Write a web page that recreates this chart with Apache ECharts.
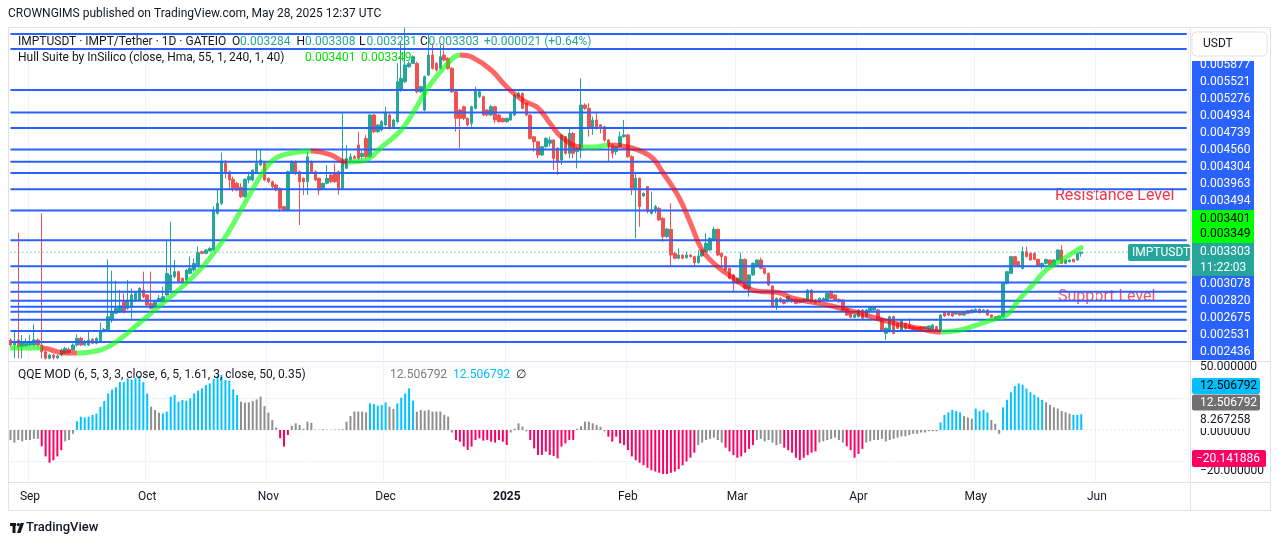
<!DOCTYPE html>
<html>
<head>
<meta charset="utf-8">
<script src="https://cdn.jsdelivr.net/npm/echarts@6.0.0/dist/echarts.min.js"></script>
<style>
  html, body { margin: 0; padding: 0; background: #ffffff; }
  #chart { width: 1281px; height: 546px; }
</style>
</head>
<body>
<div id="chart"></div>
<script>
// ---- data (prices in micro-USDT, i.e. x 1e-6) ----
const startDay = Date.UTC(2024, 7, 27);
const dayCount = 302;           // candles + empty space up to the price scale
const MONTHS = ["Jan","Feb","Mar","Apr","May","Jun","Jul","Aug","Sep","Oct","Nov","Dec"];

// daily candles [open, close, low, high]
const ohlc = [
[1909,1829,1803,1935],[1829,1882,1617,2067],[1909,1803,1617,3613],[1803,1882,1617,1988],[1815,1856,1790,1935],
[1829,1882,1803,1988],[1829,1909,1803,2157],[1909,1829,1803,1935],[1829,1723,1617,3920],[1723,1617,1600,1740],
[1617,1670,1600,1690],[1670,1630,1600,1690],[1625,1655,1605,1680],[1670,1750,1650,1770],[1697,1776,1690,1800],
[1760,1710,1690,1790],[1750,1829,1740,1856],[1829,1935,1803,2000],[1935,1829,1815,1960],[1829,1882,1815,1909],
[1829,1909,1815,2041],[1920,1856,1840,1935],[1856,1935,1840,1950],[1882,2041,1870,2184],[2041,2078,2030,2100],
[2067,2279,2041,3190],[2226,2358,2184,3009],[2332,2411,2320,2851],[2358,2448,2340,2702],[2517,2358,2332,2649],
[2411,2544,2385,2861],[2430,2623,2250,2729],[2533,2649,2520,2670],[2544,2729,2530,2745],[2702,2596,2570,2994],
[2623,2464,2450,2640],[2490,2411,2395,2994],[2430,2517,2420,2530],[2517,2570,2505,2623],[2517,2596,2505,2755],
[2623,2967,2596,3496],[2702,2941,2649,3788],[2914,2994,2888,3179],[2994,2835,2820,3009],[2888,2835,2820,2900],
[2861,3020,2835,3031],[2967,3047,2950,3232],[3020,3126,2994,3205],[3100,3295,3100,3391],[3311,3285,3270,3330],
[3285,3338,3270,3350],[3322,3364,3310,3380],[3338,3973,3330,4026],[3920,4079,3900,4290],[4079,4751,4052,4883],
[4714,4555,4476,4767],[4581,4449,4290,4600],[4460,4317,4264,4502],[4396,4290,4270,4420],[4333,4185,4160,4396],
[4185,4460,4170,4476],[4449,4502,4396,4581],[4449,4608,4430,4620],[4581,4714,4560,4926],[4687,4767,4670,4941],
[4714,4449,4430,4730],[4476,4423,4400,4490],[4423,4343,4320,4440],[4369,4290,4270,4390],[4316,3999,3946,4330],
[4025,3972,3950,4040],[3972,4581,3950,4600],[4581,4740,4560,4760],[4740,4555,4530,4760],[4581,4422,3734,4600],
[4475,4422,4211,4490],[4422,4819,4211,4899],[4740,4581,4560,4760],[4581,4449,4430,4600],[4475,4290,4211,4490],
[4316,4396,4300,4410],[4396,4475,4380,4687],[4528,4422,4400,4540],[4555,4422,4400,4713],[4581,4316,4211,4600],
[4316,4766,4300,5507],[4634,4793,4620,5005],[4766,4819,4750,4872],[4819,4793,4780,4846],[5005,4793,4770,5216],
[4819,4872,4780,4920],[5110,4819,4790,5163],[4819,5481,4800,5500],[5481,5216,5190,5500],[5216,5322,5200,5340],
[5243,5375,5220,5400],[5322,5507,5300,5613],[5481,5269,5250,5507],[5296,5401,5280,5420],[5375,6010,5350,6300],
[5878,6063,5850,6645],[6010,6275,5990,6868],[6248,6301,6230,6330],[6301,6407,6290,6430],[6301,5851,5825,6330],
[5851,5931,5830,5950],[5560,6090,5540,6110],[6116,6434,6100,6751],[6434,6222,6200,6619],[6301,6195,6170,6320],
[6222,6407,6200,6592],[6434,6354,6330,6592],[6380,6222,6200,6400],[6222,5851,5830,6240],[5851,5428,5216,5870],
[5560,5428,4952,5580],[5613,5428,5400,5630],[5428,5322,5300,5440],[5349,5613,5296,5630],[5587,5878,5570,5931],
[5772,5851,5750,5870],[5772,5481,5460,5790],[5560,5481,5460,5580],[5481,5613,5460,5640],[5613,5401,5349,5630],
[5481,5375,5360,5500],[5428,5375,5360,5440],[5375,5428,5360,5440],[5401,5507,5390,5520],[5481,5799,5460,5820],
[5772,5825,5750,5851],[5825,5587,5570,5840],[5666,5481,5460,5680],[5481,5110,5090,5500],[5136,5058,4899,5150],
[5058,4846,4793,5070],[4846,4978,4830,4990],[4978,5110,4960,5130],[5032,5084,4979,5137],[5084,4793,4608,5100],
[4952,4740,4529,4970],[4767,5164,4688,5180],[5137,4873,4850,5150],[4873,5190,4793,5270],[5190,4873,4793,5210],
[4899,4952,4635,4970],[4926,5640,4793,6064],[5640,5587,5560,5667],[5587,5270,5137,5667],[5270,5402,5164,5455],
[5402,5270,5250,5508],[5323,5270,5190,5340],[5296,5084,5060,5310],[5084,4979,4740,5100],[5005,4873,4793,5020],
[4899,4979,4846,4990],[4979,5137,4960,5217],[5137,5164,5120,5402],[5164,4820,4800,5180],[4820,4317,4211,4840],
[4317,4476,3523,4582],[4476,4026,3708,4490],[4195,4238,4180,4250],[4344,3947,3920,4350],[3920,3973,3900,4264],
[3973,4026,3920,4052],[3999,3814,3800,4020],[3841,3550,3470,3860],[3550,3671,3530,3690],[3666,3258,3073,4079],
[3285,3206,3190,3300],[3206,3258,3190,3364],[3258,3206,3190,3270],[3216,3258,3200,3311],[3258,3232,3220,3270],
[3232,3137,3073,3245],[3137,3243,3120,3338],[3243,3338,3230,3350],[3311,3444,3300,3603],[3338,3523,3320,3540],
[3497,3666,3480,3708],[3666,3258,3240,3680],[3285,3232,3073,3300],[3232,3020,3000,3245],[3047,2888,2870,3060],
[2941,2808,2676,2955],[2808,2888,2790,2900],[2835,3190,2820,3295],[3190,2729,2710,3200],[2729,2941,2597,2955],
[2941,3126,2930,3140],[3073,3179,3060,3190],[3179,3047,3030,3216],[3047,2967,2950,3060],[2967,2782,2766,2980],
[2766,2438,2420,2780],[2438,2570,2385,2585],[2570,2517,2500,2585],[2544,2491,2475,2560],[2517,2597,2500,2610],
[2555,2517,2500,2570],[2555,2491,2475,2570],[2544,2502,2490,2560],[2517,2555,2500,2570],[2543,2702,2530,2715],
[2702,2517,2500,2715],[2543,2501,2490,2560],[2517,2570,2500,2585],[2543,2570,2530,2585],[2543,2649,2530,2660],
[2676,2570,2555,2700],[2623,2543,2530,2640],[2554,2517,2500,2570],[2543,2385,2370,2560],[2401,2305,2290,2415],
[2332,2268,2255,2345],[2268,2305,2255,2320],[2279,2385,2265,2400],[2385,2252,2240,2400],[2279,2385,2265,2400],
[2358,2427,2345,2440],[2385,2427,2370,2440],[2385,2226,2210,2400],[2252,2067,2050,2265],[2014,2094,1908,2110],
[2041,2279,2025,2295],[2279,2014,2000,2295],[2173,2094,2080,2185],[2067,2226,2050,2240],[2173,2094,2067,2185],
[2147,2094,2080,2252],[2120,2078,2065,2130],[2109,2078,2065,2120],[2120,2078,2065,2130],[2088,2120,2075,2130],
[2078,2131,2065,2140],[2078,2147,2065,2160],[2120,2067,2055,2135],[2067,2305,2055,2320],[2358,2289,2275,2370],
[2358,2305,2290,2370],[2358,2289,2275,2370],[2321,2358,2310,2370],[2358,2305,2290,2370],[2305,2358,2290,2370],
[2374,2332,2320,2385],[2342,2385,2330,2395],[2358,2395,2345,2410],[2395,2342,2330,2410],[2358,2385,2345,2395],
[2385,2305,2290,2395],[2305,2268,2255,2315],[2279,2237,2225,2290],[2252,2289,2240,2300],[2279,2808,2265,2820],
[2808,2993,2790,3005],[2967,3232,2950,3245],[3232,3099,3085,3242],[3152,3073,3060,3165],[3046,3311,3030,3390],
[3311,3232,3220,3390],[3284,3179,3165,3300],[3284,3189,3175,3300],[3189,3083,3070,3200],[3073,3126,3040,3140],
[3126,3189,3110,3200],[3179,3099,3085,3190],[3099,3179,3085,3190],[3179,3337,3165,3350],[3337,3126,3110,3417],
[3126,3179,3110,3190],[3152,3179,3140,3190],[3189,3152,3140,3200],[3179,3284,3165,3300],[3284,3303,3231,3308]
];

// Hull Suite line [day index, value]
const hullPoints = [
[0,1781],[8,1781],[14,1702],[17,1702],[23,1750],[27,1877],[33,2178],[40,2544],[45,2813],[50,3131],
[55,3544],[60,4084],[65,4608],[68,4799],[72,4878],[77,4910],[82,4847],[86,4735],[91,4767],[95,4973],
[100,5243],[103,5513],[107,5926],[112,6307],[115,6434],[118,6402],[123,6196],[127,5926],[131,5720],[135,5593],
[138,5354],[141,5132],[146,4973],[150,4973],[153,5005],[159,4957],[164,4814],[167,4560],[171,4179],[174,3766],
[177,3338],[181,3068],[185,2893],[190,2702],[197,2655],[200,2575],[209,2464],[217,2337],[226,2178],[232,2099],
[238,2035],[243,2067],[251,2226],[255,2305],[258,2544],[262,2813],[265,3020],[269,3179],[274,3375]
];
// trend turns of the hull: [first day index, rising?]
const hullTrend = [[0,true],[8,false],[17,true],[77,false],[86,true],[115,false],[146,true],[153,false],[238,true]];

// horizontal support / resistance levels
const levels = [6767,6529,5877,5521,5276,4934,4739,4560,4304,3963,3494,3078,2820,2675,2531,2436,2358,2231,2051,1876];
const lastPrice = 3303;
const upperLabels = ["0.005877","0.005521","0.005276","0.004934","0.004739","0.004560","0.004304","0.003963","0.003494"];
const hullLabels = ["0.003401","0.003349"];
const lowerLabels = ["0.003078","0.002820","0.002675","0.002531","0.002436"];
const legendOHLC = ["0.003284","0.003308","0.003231","0.003303"];

// QQE MOD histogram
const qqeHist = [
-8,-10,-8,-9,-8,-8,-7,-7, -13,-21,-26,-24,-21,-16, -9,-8,-3,
7,10.6,10,10.6,12,13,18.5,23,29,32,34,38,38,41,40,41,43,38,29,
18.5,15.9,13.8,
13.2,14.6,26.5,27.8,22.5,23.8,23.3,25.1,29.1,31.2,33.1,35.7,37,40.5,43.1,43.7,39.7,39.2,32.3,27.8,
22.5,21.7,22,23,24.3,26.5,19,13.8,7.9, 2, -6.6,-13.2,-4, 3.4,5.3,4,1,6.6,5.8,
0.3,0.2,0.5,0.2,0.1,0.3,0.4,0.6, 6.6,11.1,14.6,14.6,14.6,14,
21.2,20.6,19.3,19.8,22, 18.5,16.7, 21.2,25.7,29.1,33.1,23.3,
14.6,15.9,15.3,15.9,14.6,14.6,14.6,12,10.6, -2,
-7.9,-9.3,-13.2,-15.9,-13.2,-7.9,-6.6,-8.5,-7.9,-9.3,-10,-7.9,-9.3,-11.9,
-2,1,5.3,2.6,-1,
-7.9,-14.6,-19.8,-19.8,-17.2,-19.8,-20.6,-22.5,-13.2,-10.6,-7.9,-7.9,
1,3,6.6,6.6,5.3,4,2.6,-1,
-5.3,-9.3,-5.3,-10.6,-12,-16,-21,
-24,-26,-28,-30,-32,-33,-34,-35,-35,-34,-33,-31,-28,-25,-22,-18,
-12,-10,-8,-7,-6,-8,-10,
-14,-17,-20,-22,-21,-18,-15,-12,
-8,-7,-9,-8,-10,-12,-11,
-14,-16,-18,-22,-24,-22,-20,-18,-17,
-10,-9,-8,-7,-6,-8,-10,
-13,-16,-22,-19,-15,
-10,-9,-8,-8,-7,-9,-8,-7,-6,-5,-5,-4,-3,-3,-2,-2,-1,-1,-1,
6,12,14,16,15,14, 11,10,9, 17,15,16,14, 8,5,-3,
18,24,30,35,37,36,33,30,28,26,24, 22,20,18,17,15,14,13, 12,12,12.506792
];
// QQE state runs: [first day index, state]  n = neutral, u = up, d = down
const qqeRuns = [[0,'n'],[8,'d'],[14,'n'],[17,'u'],[36,'n'],[39,'u'],[59,'n'],[69,'d'],[72,'n'],[92,'u'],
[97,'n'],[99,'u'],[104,'n'],[114,'d'],[128,'n'],[133,'d'],[145,'n'],[153,'d'],[176,'n'],[183,'d'],[191,'n'],
[198,'d'],[207,'n'],[214,'d'],[219,'n'],[238,'u'],[244,'n'],[247,'u'],[251,'n'],[254,'u'],[265,'n'],[272,'u']];
const qqeGuides = [50, 25, -25];

// ---- build ----
const days = [];
for (let k = 0; k < dayCount; k++) {
  days.push(new Date(startDay + k * 86400000).toISOString().slice(0, 10));
}
const isMonthStart = (idx, val) => val.slice(8) === "01";
const lastIdx = dayCount - 1;

// one polyline per horizontal level, broken with "-" gaps
function hLines(values) {
  const out = [];
  values.forEach(v => { out.push([0, v], [lastIdx, v], [lastIdx, "-"]); });
  return out;
}

const UP = "#26a69a", DOWN = "#ef5350", BLUE = "#2962ff";
const qqeColors = { n: "#8f8f8f", u: "#00c3ff", d: "#ff0062" };
function qqeStateAt(i) {
  let s = "n";
  for (const [start, st] of qqeRuns) if (i >= start) s = st;
  return s;
}

const hullPieces = hullTrend.map(([start, rising], k) => {
  const next = hullTrend[k + 1];
  const piece = { gte: start, color: rising ? "#00ff00" : "#ff0000" };
  if (next) piece.lt = next[0];
  return piece;
});

const FONT = 'Roboto, "Liberation Sans", Arial, sans-serif';
function txt(x, y, s, color, size, extra) {
  return Object.assign({ type: "text", x: x, y: y, z: 100,
    style: { text: s, fill: color, fontSize: size || 12, fontFamily: FONT, verticalAlign: "middle", align: "left" } }, extra || {});
}
function box(x, y, w, h, fill, extra) {
  return Object.assign({ type: "rect", z: 90, shape: { x: x, y: y, width: w, height: h }, style: { fill: fill } }, extra || {});
}

const g = [];
// frame
g.push({ type: "rect", z: 1, shape: { x: 8.5, y: 27.5, width: 1262, height: 483 }, style: { fill: "none", stroke: "#e0e3eb", lineWidth: 1 } });
g.push({ type: "line", z: 1, shape: { x1: 1190.5, y1: 27.5, x2: 1190.5, y2: 510.5 }, style: { stroke: "#e0e3eb", lineWidth: 1 } });
g.push({ type: "line", z: 1, shape: { x1: 8.5, y1: 361.5, x2: 1270.5, y2: 361.5 }, style: { stroke: "#e0e3eb", lineWidth: 1 } });
g.push({ type: "line", z: 1, shape: { x1: 8.5, y1: 482.5, x2: 1270.5, y2: 482.5 }, style: { stroke: "#e0e3eb", lineWidth: 1 } });

// publisher line
g.push(txt(8, 14, "CROWNGIMS published on TradingView.com, May 28, 2025 12:37 UTC", "#131722", 12));

// legend
g.push(txt(18, 42, "IMPTUSDT · IMPT/Tether · 1D · GATEIO", "#131722", 12));
[["O", 232, 240], ["H", 296.5, 305], ["L", 359, 366.5], ["C", 420, 428.6]].forEach(([k, xk, xv], n) => {
  g.push(txt(xk, 42, k, "#131722", 12));
  g.push(txt(xv, 42, legendOHLC[n], UP, 12));
});
g.push(txt(484, 42, "+0.000021 (+0.64%)", UP, 12));
g.push(txt(18, 58, "Hull Suite by InSilico (close, Hma, 55, 1, 240, 1, 40)", "#131722", 12));
g.push(txt(305, 58, hullLabels[0], "#00e000", 12));
g.push(txt(361, 58, hullLabels[1], "#00e000", 12));

// annotations (under the level lines)
g.push({ type: "text", x: 1055, y: 196, z: 0, style: { text: "Resistance Level", fill: "#f23645", fontSize: 16, fontFamily: FONT, verticalAlign: "middle" } });
g.push({ type: "text", x: 1058, y: 297, z: 0, style: { text: "Support Level", fill: "#f7525f", fontSize: 16, fontFamily: FONT, verticalAlign: "middle" } });

// price scale
g.push(box(1192, 32, 75, 24, "#ffffff", { shape: { x: 1192, y: 32, width: 75, height: 24, r: 4 }, style: { fill: "#ffffff", stroke: "#e0e3eb" }, z: 95 }));
g.push(txt(1203, 44, "USDT", "#131722", 12, { z: 96 }));
g.push(box(1192, 61, 62, 149, BLUE));
upperLabels.forEach((s, n) => g.push(txt(1200, 64.5 + n * 17.1, s, "#ffffff", 12)));
g.push(box(1192, 210, 62, 33, "#00ff00"));
g.push(txt(1200, 218.5, hullLabels[0], "#000000", 12));
g.push(txt(1200, 234, hullLabels[1], "#000000", 12));
g.push(box(1192, 243, 62, 33, UP));
g.push(txt(1200, 251.5, "0.003303", "#ffffff", 12));
g.push(txt(1200, 268, "11:22:03", "#ffffff", 12));
g.push(box(1192, 276, 62, 84, BLUE));
lowerLabels.forEach((s, n) => g.push(txt(1200, 284 + n * 16.9, s, "#ffffff", 12)));
g.push(box(1128, 244, 62, 17, UP, { shape: { x: 1128, y: 244, width: 62, height: 17, r: 2 } }));
g.push(txt(1132, 252.5, "IMPTUSDT", "#ffffff", 12));

// QQE legend + scale
g.push(txt(18, 375, "QQE MOD (6, 5, 3, 3, close, 6, 5, 1.61, 3, close, 50, 0.35)", "#131722", 12));
g.push(txt(390, 375, "12.506792", "#787b86", 12));
g.push(txt(453, 375, "12.506792", "#00bfff", 12));
g.push(txt(516, 375, "∅", "#131722", 12));
g.push(txt(1200, 367, "50.000000", "#131722", 12));
g.push(box(1192, 378, 68, 16, "#00bfff", { shape: { x: 1192, y: 378, width: 68, height: 16, r: 2 } }));
g.push(txt(1200, 386, "12.506792", "#000000", 12));
g.push(box(1192, 394.5, 68, 16, "#707070", { shape: { x: 1192, y: 394.5, width: 68, height: 16, r: 2 } }));
g.push(txt(1200, 402.5, "12.506792", "#ffffff", 12));
g.push(txt(1200, 432, "0.000000", "#131722", 12, { z: 80 }));
g.push(box(1192, 412, 68, 16, "#ffffff", { z: 85 }));
g.push(txt(1200, 420, "8.267258", "#131722", 12));
g.push(txt(1200, 471, "−20.000000", "#131722", 12, { z: 80 }));
g.push(box(1192, 450, 74, 17, "#ff0062", { shape: { x: 1192, y: 450, width: 74, height: 17, r: 2 } }));
g.push(txt(1196, 458.5, "−20.141886", "#ffffff", 12));

// footer logo
g.push({ type: "rect", z: 100, shape: { x: 10, y: 523, width: 6, height: 3 }, style: { fill: "#131722" } });
g.push({ type: "rect", z: 100, shape: { x: 12.5, y: 523, width: 3, height: 10 }, style: { fill: "#131722" } });
g.push({ type: "circle", z: 100, shape: { cx: 18.3, cy: 524.6, r: 1.6 }, style: { fill: "#131722" } });
g.push({ type: "polygon", z: 100, shape: { points: [[20.5, 523], [24, 523], [20.5, 533], [17, 533]] }, style: { fill: "#131722" } });
g.push(txt(26, 528, "TradingView", "#131722", 13, { style: { text: "TradingView", fill: "#131722", fontSize: 13, fontFamily: FONT, fontWeight: 500, verticalAlign: "middle" } }));

const chart = echarts.init(document.getElementById("chart"));
chart.setOption({
  animation: false,
  backgroundColor: "#ffffff",
  grid: [
    { left: 8.5, width: 1180.2, top: 30, height: 330 },
    { left: 8.5, width: 1180.2, top: 362, height: 120 }
  ],
  xAxis: [
    { type: "category", gridIndex: 0, data: days, boundaryGap: true,
      axisLine: { show: false }, axisTick: { show: false }, axisLabel: { show: false },
      splitLine: { show: true, interval: isMonthStart, lineStyle: { color: "#f0f3fa", width: 1 } } },
    { type: "category", gridIndex: 1, data: days, boundaryGap: true,
      axisLine: { show: false }, axisTick: { show: false },
      axisLabel: { interval: isMonthStart, color: "#131722", fontSize: 12, fontFamily: FONT, margin: 9,
        formatter: (val) => {
          const m = +val.slice(5, 7);
          return m === 1 ? "{y|" + val.slice(0, 4) + "}" : MONTHS[m - 1];
        },
        rich: { y: { fontWeight: "bold", fontSize: 12, fontFamily: FONT, color: "#131722" } } },
      splitLine: { show: true, interval: isMonthStart, lineStyle: { color: "#f0f3fa", width: 1 } } }
  ],
  yAxis: [
    { type: "value", gridIndex: 0, min: 0.001591, max: 0.006831, show: false },
    { type: "value", gridIndex: 1, min: -41.3, max: 54, show: false }
  ],
  visualMap: {
    type: "piecewise", show: false, seriesIndex: 1, dimension: 0, pieces: hullPieces
  },
  series: [
    {
      name: "IMPTUSDT", type: "candlestick", xAxisIndex: 0, yAxisIndex: 0,
      data: ohlc.map(r => r.map(v => v / 1e6)),
      barWidth: 3, z: 2,
      itemStyle: { color: UP, color0: DOWN, borderColor: UP, borderColor0: DOWN, borderWidth: 1 }
    },
    {
      name: "Hull", type: "line", xAxisIndex: 0, yAxisIndex: 0,
      data: hullPoints.map(([i, v]) => [i, v / 1e6]),
      smooth: 0.4, showSymbol: false, z: 6, silent: true,
      lineStyle: { width: 5, opacity: 0.6, cap: "round" }
    },
    {
      name: "QQE", type: "bar", xAxisIndex: 1, yAxisIndex: 1, barWidth: 2, silent: true, z: 3,
      data: qqeHist.map((v, i) => ({ value: v, itemStyle: { color: qqeColors[qqeStateAt(i)] } }))
    },
    {
      name: "Levels", type: "line", xAxisIndex: 0, yAxisIndex: 0, z: 4,
      data: hLines(levels.map(v => v / 1e6)), showSymbol: false, silent: true, connectNulls: false,
      lineStyle: { color: BLUE, width: 2, type: "solid" }
    },
    {
      name: "Last", type: "line", xAxisIndex: 0, yAxisIndex: 0, z: 4,
      data: hLines([lastPrice / 1e6]), showSymbol: false, silent: true,
      lineStyle: { color: UP, width: 1, type: [1, 3] }
    },
    {
      name: "QQE guides", type: "line", xAxisIndex: 1, yAxisIndex: 1, z: 1,
      data: hLines(qqeGuides), showSymbol: false, silent: true,
      lineStyle: { color: "#f0f3fa", width: 1 }
    },
    {
      name: "QQE zero", type: "line", xAxisIndex: 1, yAxisIndex: 1, z: 2,
      data: hLines([0]), showSymbol: false, silent: true,
      lineStyle: { color: "#c8cad0", width: 1, type: [1, 3] }
    }
  ],
  graphic: g
});
</script>
</body>
</html>
